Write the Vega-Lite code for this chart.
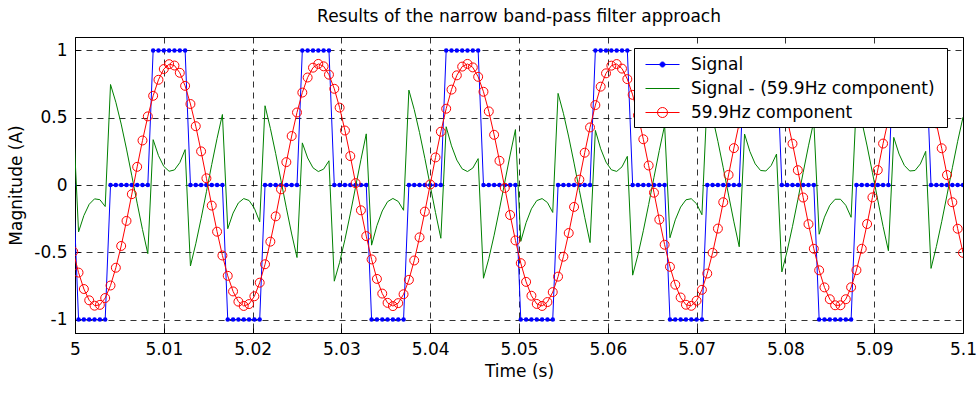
{
"$schema": "https://vega.github.io/schema/vega-lite/v6.json",
"width": 888, "height": 296,
"autosize": {"type": "none"},
"padding": {"left": 75, "top": 37, "right": 15, "bottom": 61},
"background": "white",
"title": {"text": "Results of the narrow band-pass filter approach", "font": "DejaVu Sans", "fontSize": 17, "fontWeight": "normal", "color": "black", "offset": 11, "anchor": "middle"},
"config": {
 "view": {"stroke": "black", "strokeWidth": 1},
 "axis": {"labelFont": "DejaVu Sans", "labelFontSize": 17, "labelColor": "black", "titleFont": "DejaVu Sans", "titleFontSize": 17, "titleFontWeight": "normal", "titleColor": "black", "domainColor": "black", "tickColor": "black", "gridColor": "black", "gridDash": [6,5], "gridOpacity": 0.8, "gridWidth": 1, "labelOverlap": false, "labelFlush": false}
},
"data": {"values": [
{"t":4.9998,"s":0,"r":-0.495,"g":0.495},
{"t":5.0004,"s":-1,"r":-0.651,"g":-0.349},
{"t":5.0010,"s":-1,"r":-0.773,"g":-0.227},
{"t":5.0016,"s":-1,"r":-0.857,"g":-0.143},
{"t":5.0022,"s":-1,"r":-0.897,"g":-0.103},
{"t":5.0028,"s":-1,"r":-0.891,"g":-0.109},
{"t":5.0034,"s":-1,"r":-0.840,"g":-0.160},
{"t":5.0040,"s":0,"r":-0.747,"g":0.747},
{"t":5.0046,"s":0,"r":-0.615,"g":0.615},
{"t":5.0052,"s":0,"r":-0.453,"g":0.453},
{"t":5.0058,"s":0,"r":-0.267,"g":0.267},
{"t":5.0064,"s":0,"r":-0.068,"g":0.068},
{"t":5.0070,"s":0,"r":0.135,"g":-0.135},
{"t":5.0076,"s":0,"r":0.331,"g":-0.331},
{"t":5.0082,"s":0,"r":0.510,"g":-0.510},
{"t":5.0088,"s":1,"r":0.663,"g":0.337},
{"t":5.0094,"s":1,"r":0.782,"g":0.218},
{"t":5.0100,"s":1,"r":0.862,"g":0.138},
{"t":5.0106,"s":1,"r":0.898,"g":0.102},
{"t":5.0112,"s":1,"r":0.888,"g":0.112},
{"t":5.0118,"s":1,"r":0.834,"g":0.166},
{"t":5.0124,"s":1,"r":0.737,"g":0.263},
{"t":5.0130,"s":0,"r":0.602,"g":-0.602},
{"t":5.0136,"s":0,"r":0.437,"g":-0.437},
{"t":5.0142,"s":0,"r":0.250,"g":-0.250},
{"t":5.0148,"s":0,"r":0.050,"g":-0.050},
{"t":5.0154,"s":0,"r":-0.153,"g":0.153},
{"t":5.0160,"s":0,"r":-0.347,"g":0.347},
{"t":5.0166,"s":0,"r":-0.524,"g":0.524},
{"t":5.0172,"s":-1,"r":-0.675,"g":-0.325},
{"t":5.0178,"s":-1,"r":-0.791,"g":-0.209},
{"t":5.0184,"s":-1,"r":-0.867,"g":-0.133},
{"t":5.0190,"s":-1,"r":-0.899,"g":-0.101},
{"t":5.0196,"s":-1,"r":-0.885,"g":-0.115},
{"t":5.0202,"s":-1,"r":-0.827,"g":-0.173},
{"t":5.0208,"s":-1,"r":-0.726,"g":-0.274},
{"t":5.0214,"s":0,"r":-0.589,"g":0.589},
{"t":5.0220,"s":0,"r":-0.421,"g":0.421},
{"t":5.0226,"s":0,"r":-0.233,"g":0.233},
{"t":5.0232,"s":0,"r":-0.032,"g":0.032},
{"t":5.0238,"s":0,"r":0.170,"g":-0.170},
{"t":5.0244,"s":0,"r":0.364,"g":-0.364},
{"t":5.0250,"s":0,"r":0.539,"g":-0.539},
{"t":5.0256,"s":1,"r":0.687,"g":0.313},
{"t":5.0262,"s":1,"r":0.799,"g":0.201},
{"t":5.0268,"s":1,"r":0.872,"g":0.128},
{"t":5.0274,"s":1,"r":0.900,"g":0.100},
{"t":5.0280,"s":1,"r":0.882,"g":0.118},
{"t":5.0286,"s":1,"r":0.820,"g":0.180},
{"t":5.0292,"s":0,"r":0.715,"g":-0.715},
{"t":5.0298,"s":0,"r":0.575,"g":-0.575},
{"t":5.0304,"s":0,"r":0.405,"g":-0.405},
{"t":5.0310,"s":0,"r":0.215,"g":-0.215},
{"t":5.0316,"s":0,"r":0.014,"g":-0.014},
{"t":5.0322,"s":0,"r":-0.188,"g":0.188},
{"t":5.0328,"s":0,"r":-0.380,"g":0.380},
{"t":5.0334,"s":-1,"r":-0.553,"g":-0.447},
{"t":5.0340,"s":-1,"r":-0.698,"g":-0.302},
{"t":5.0346,"s":-1,"r":-0.807,"g":-0.193},
{"t":5.0352,"s":-1,"r":-0.876,"g":-0.124},
{"t":5.0358,"s":-1,"r":-0.900,"g":-0.100},
{"t":5.0364,"s":-1,"r":-0.878,"g":-0.122},
{"t":5.0370,"s":-1,"r":-0.812,"g":-0.188},
{"t":5.0376,"s":0,"r":-0.705,"g":0.705},
{"t":5.0382,"s":0,"r":-0.561,"g":0.561},
{"t":5.0388,"s":0,"r":-0.389,"g":0.389},
{"t":5.0394,"s":0,"r":-0.198,"g":0.198},
{"t":5.0400,"s":0,"r":0.004,"g":-0.004},
{"t":5.0406,"s":0,"r":0.205,"g":-0.205},
{"t":5.0412,"s":0,"r":0.396,"g":-0.396},
{"t":5.0418,"s":1,"r":0.567,"g":0.433},
{"t":5.0424,"s":1,"r":0.709,"g":0.291},
{"t":5.0430,"s":1,"r":0.815,"g":0.185},
{"t":5.0436,"s":1,"r":0.880,"g":0.120},
{"t":5.0442,"s":1,"r":0.900,"g":0.100},
{"t":5.0448,"s":1,"r":0.874,"g":0.126},
{"t":5.0454,"s":1,"r":0.804,"g":0.196},
{"t":5.0460,"s":0,"r":0.693,"g":-0.693},
{"t":5.0466,"s":0,"r":0.547,"g":-0.547},
{"t":5.0472,"s":0,"r":0.373,"g":-0.373},
{"t":5.0478,"s":0,"r":0.180,"g":-0.180},
{"t":5.0484,"s":0,"r":-0.022,"g":0.022},
{"t":5.0490,"s":0,"r":-0.223,"g":0.223},
{"t":5.0496,"s":0,"r":-0.412,"g":0.412},
{"t":5.0502,"s":-1,"r":-0.581,"g":-0.419},
{"t":5.0508,"s":-1,"r":-0.720,"g":-0.280},
{"t":5.0514,"s":-1,"r":-0.823,"g":-0.177},
{"t":5.0520,"s":-1,"r":-0.884,"g":-0.116},
{"t":5.0526,"s":-1,"r":-0.899,"g":-0.101},
{"t":5.0532,"s":-1,"r":-0.870,"g":-0.130},
{"t":5.0538,"s":-1,"r":-0.796,"g":-0.204},
{"t":5.0544,"s":0,"r":-0.681,"g":0.681},
{"t":5.0550,"s":0,"r":-0.533,"g":0.533},
{"t":5.0556,"s":0,"r":-0.357,"g":0.357},
{"t":5.0562,"s":0,"r":-0.163,"g":0.163},
{"t":5.0568,"s":0,"r":0.040,"g":-0.040},
{"t":5.0574,"s":0,"r":0.240,"g":-0.240},
{"t":5.0580,"s":0,"r":0.428,"g":-0.428},
{"t":5.0586,"s":1,"r":0.594,"g":0.406},
{"t":5.0592,"s":1,"r":0.731,"g":0.269},
{"t":5.0598,"s":1,"r":0.830,"g":0.170},
{"t":5.0604,"s":1,"r":0.887,"g":0.113},
{"t":5.0610,"s":1,"r":0.899,"g":0.101},
{"t":5.0616,"s":1,"r":0.865,"g":0.135},
{"t":5.0622,"s":1,"r":0.787,"g":0.213},
{"t":5.0628,"s":0,"r":0.670,"g":-0.670},
{"t":5.0634,"s":0,"r":0.518,"g":-0.518},
{"t":5.0640,"s":0,"r":0.340,"g":-0.340},
{"t":5.0646,"s":0,"r":0.145,"g":-0.145},
{"t":5.0652,"s":0,"r":-0.057,"g":0.057},
{"t":5.0658,"s":0,"r":-0.257,"g":0.257},
{"t":5.0664,"s":0,"r":-0.444,"g":0.444},
{"t":5.0670,"s":-1,"r":-0.608,"g":-0.392},
{"t":5.0676,"s":-1,"r":-0.741,"g":-0.259},
{"t":5.0682,"s":-1,"r":-0.836,"g":-0.164},
{"t":5.0688,"s":-1,"r":-0.890,"g":-0.110},
{"t":5.0694,"s":-1,"r":-0.898,"g":-0.102},
{"t":5.0700,"s":-1,"r":-0.860,"g":-0.140},
{"t":5.0706,"s":-1,"r":-0.779,"g":-0.221},
{"t":5.0712,"s":0,"r":-0.658,"g":0.658},
{"t":5.0718,"s":0,"r":-0.504,"g":0.504},
{"t":5.0724,"s":0,"r":-0.324,"g":0.324},
{"t":5.0730,"s":0,"r":-0.128,"g":0.128},
{"t":5.0736,"s":0,"r":0.075,"g":-0.075},
{"t":5.0742,"s":0,"r":0.274,"g":-0.274},
{"t":5.0748,"s":0,"r":0.459,"g":-0.459},
{"t":5.0754,"s":1,"r":0.621,"g":0.379},
{"t":5.0760,"s":1,"r":0.751,"g":0.249},
{"t":5.0766,"s":1,"r":0.843,"g":0.157},
{"t":5.0772,"s":1,"r":0.892,"g":0.108},
{"t":5.0778,"s":1,"r":0.896,"g":0.104},
{"t":5.0784,"s":1,"r":0.855,"g":0.145},
{"t":5.0790,"s":1,"r":0.770,"g":0.230},
{"t":5.0796,"s":0,"r":0.646,"g":-0.646},
{"t":5.0802,"s":0,"r":0.489,"g":-0.489},
{"t":5.0808,"s":0,"r":0.307,"g":-0.307},
{"t":5.0814,"s":0,"r":0.110,"g":-0.110},
{"t":5.0820,"s":0,"r":-0.093,"g":0.093},
{"t":5.0826,"s":0,"r":-0.291,"g":0.291},
{"t":5.0832,"s":0,"r":-0.474,"g":0.474},
{"t":5.0838,"s":-1,"r":-0.634,"g":-0.366},
{"t":5.0844,"s":-1,"r":-0.761,"g":-0.239},
{"t":5.0850,"s":-1,"r":-0.849,"g":-0.151},
{"t":5.0856,"s":-1,"r":-0.894,"g":-0.106},
{"t":5.0862,"s":-1,"r":-0.894,"g":-0.106},
{"t":5.0868,"s":-1,"r":-0.849,"g":-0.151},
{"t":5.0874,"s":-1,"r":-0.760,"g":-0.240},
{"t":5.0880,"s":0,"r":-0.633,"g":0.633},
{"t":5.0886,"s":0,"r":-0.474,"g":0.474},
{"t":5.0892,"s":0,"r":-0.290,"g":0.290},
{"t":5.0898,"s":0,"r":-0.092,"g":0.092},
{"t":5.0904,"s":0,"r":0.111,"g":-0.111},
{"t":5.0910,"s":0,"r":0.308,"g":-0.308},
{"t":5.0916,"s":0,"r":0.489,"g":-0.489},
{"t":5.0922,"s":1,"r":0.646,"g":0.354},
{"t":5.0928,"s":1,"r":0.770,"g":0.230},
{"t":5.0934,"s":1,"r":0.855,"g":0.145},
{"t":5.0940,"s":1,"r":0.896,"g":0.104},
{"t":5.0946,"s":1,"r":0.892,"g":0.108},
{"t":5.0952,"s":1,"r":0.843,"g":0.157},
{"t":5.0958,"s":1,"r":0.750,"g":0.250},
{"t":5.0964,"s":0,"r":0.620,"g":-0.620},
{"t":5.0970,"s":0,"r":0.458,"g":-0.458},
{"t":5.0976,"s":0,"r":0.273,"g":-0.273},
{"t":5.0982,"s":0,"r":0.074,"g":-0.074},
{"t":5.0988,"s":0,"r":-0.128,"g":0.128},
{"t":5.0994,"s":0,"r":-0.325,"g":0.325},
{"t":5.1000,"s":0,"r":-0.504,"g":0.504}
]},
"transform": [{"fold": ["s", "g", "r"], "as": ["key", "val"]}],
"encoding": {
 "x": {"field": "t", "type": "quantitative", "scale": {"domain": [5, 5.1], "nice": false, "zero": false},
   "axis": {"title": "Time (s)", "values": [5, 5.01, 5.02, 5.03, 5.04, 5.05, 5.06, 5.07, 5.08, 5.09, 5.1], "labelExpr": "'' + datum.value", "grid": true, "tickSize": -5, "labelPadding": 13, "titlePadding": 6}},
 "y": {"field": "val", "type": "quantitative", "scale": {"domain": [-1.1, 1.1], "nice": false, "zero": false},
   "axis": {"title": "Magnitude (A)", "values": [-1, -0.5, 0, 0.5, 1], "labelExpr": "'' + datum.value", "grid": true, "tickSize": -5, "labelPadding": 13, "titlePadding": 8}}
},
"layer": [
 {"transform": [{"filter": "datum.key === 's'"}],
  "mark": {"type": "line", "strokeWidth": 1, "clip": true},
  "encoding": {"color": {"field": "key", "type": "nominal", "scale": {"domain": ["s", "g", "r"], "range": ["#0000ff", "#008000", "#ff0000"]},
    "legend": {"orient": "none", "legendX": 559, "legendY": 11, "direction": "vertical",
      "title": "\u00a0", "titleOrient": "right", "titlePadding": 6, "titleFontSize": 10,
      "labelExpr": "datum.value === 's' ? 'Signal' : datum.value === 'g' ? 'Signal - (59.9Hz component)' : '59.9Hz component'",
      "labelFont": "DejaVu Sans", "labelFontSize": 17, "labelColor": "black", "labelLimit": 500,
      "strokeColor": "black", "fillColor": "white", "padding": 6,
      "symbolSize": 400, "symbolOffset": 12, "labelOffset": 18, "rowPadding": 5, "symbolStrokeWidth": 1,
      "encode": {"symbols": {"update": {
        "shape": {"signal": "datum.value === 's' ? 'M-1.7,0L1.7,0M0.25,0A0.25,0.25,0,1,1,-0.25,0A0.25,0.25,0,1,1,0.25,0Z' : datum.value === 'r' ? 'M-1.7,0L1.7,0M0.5,0A0.5,0.5,0,1,1,-0.5,0A0.5,0.5,0,1,1,0.5,0Z' : 'M-1.7,0L1.7,0'"},
        "fill": {"signal": "datum.value === 's' ? '#0000ff' : 'transparent'"},
        "stroke": {"scale": "color", "field": "value"},
        "strokeWidth": {"value": 1},
        "opacity": {"value": 1}}}}}}}},
 {"transform": [{"filter": "datum.key === 's'"}],
  "mark": {"type": "point", "filled": true, "color": "#0000ff", "size": 20, "opacity": 1, "clip": true}},
 {"transform": [{"filter": "datum.key === 'g'"}],
  "mark": {"type": "line", "strokeWidth": 1, "clip": true},
  "encoding": {"color": {"field": "key", "type": "nominal"}}},
 {"transform": [{"filter": "datum.key === 'r'"}],
  "mark": {"type": "line", "strokeWidth": 1, "clip": true},
  "encoding": {"color": {"field": "key", "type": "nominal"}}},
 {"transform": [{"filter": "datum.key === 'r'"}],
  "mark": {"type": "point", "filled": false, "color": "#ff0000", "size": 80, "strokeWidth": 1, "opacity": 1, "clip": true}}
]
}
